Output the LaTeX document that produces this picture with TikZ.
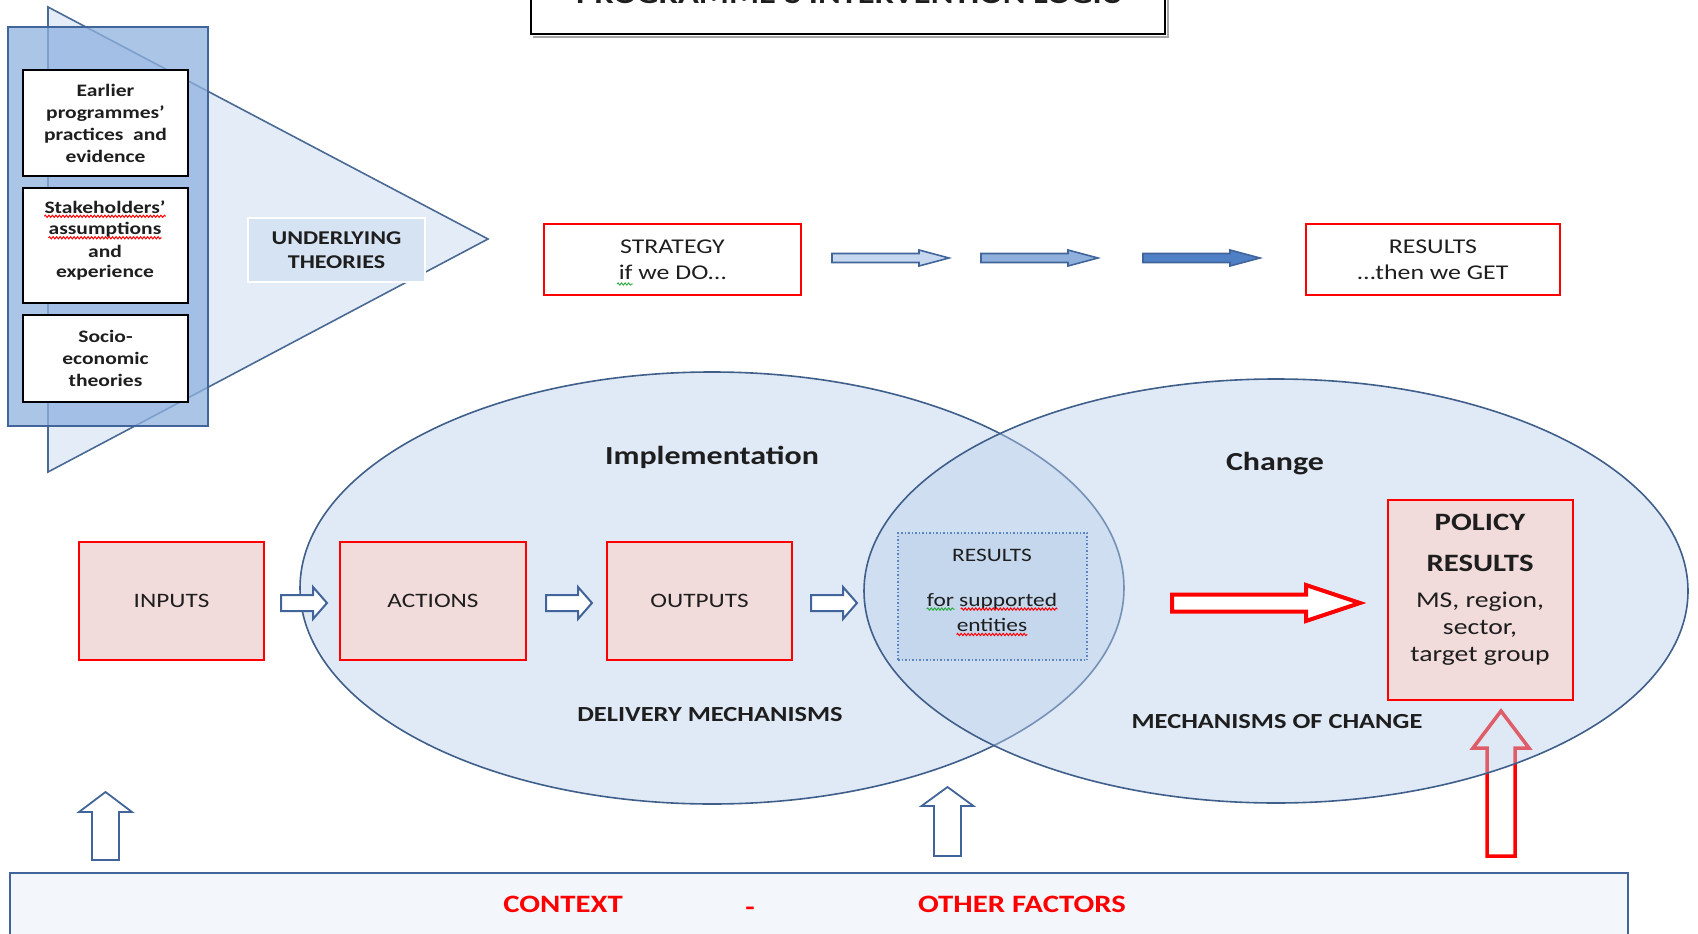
\documentclass[tikz,border=0pt]{standalone}
\usepackage{fontspec}
\setmainfont{Carlito}[FakeStretch=1.23]
\usetikzlibrary{decorations.pathmorphing}
\definecolor{tribl}{RGB}{228,236,247}
\definecolor{triline}{RGB}{74,106,148}
\definecolor{rectbl}{RGB}{143,177,223}
\definecolor{dkblue}{RGB}{65,101,154}
\definecolor{pinkf}{RGB}{242,220,219}
\definecolor{ellf}{RGB}{186,208,235}
\definecolor{elll}{RGB}{63,95,138}
\definecolor{undf}{RGB}{214,227,243}
\definecolor{resf}{RGB}{190,210,236}
\definecolor{dotl}{RGB}{91,133,192}
\definecolor{ctxf}{RGB}{243,246,251}
\definecolor{arr1}{RGB}{197,216,240}
\definecolor{arr2}{RGB}{143,176,220}
\definecolor{arr3}{RGB}{79,127,196}
\definecolor{txt}{RGB}{30,30,30}
\definecolor{spgreen}{RGB}{40,170,60}
\newcommand\rarrow[7]{\draw[#1] (#2,{#4-#5}) -- ({#3-#7},{#4-#5}) -- ({#3-#7},{#4-#6}) -- (#3,#4) -- ({#3-#7},{#4+#6}) -- ({#3-#7},{#4+#5}) -- (#2,{#4+#5}) -- cycle;}
\newcommand\uarrow[7]{\draw[#1] ({#2-#5},#4) -- ({#2-#5},{#3+#7}) -- ({#2-#6},{#3+#7}) -- (#2,#3) -- ({#2+#6},{#3+#7}) -- ({#2+#5},{#3+#7}) -- ({#2+#5},#4) -- cycle;}
\begin{document}
\begin{tikzpicture}[x=1pt,y=-1pt,
  lbl/.style={inner sep=0pt, text=txt},
  small/.style={lbl, font=\bfseries\fontsize{17.5}{22}\selectfont},
  whitebox/.style={draw=black, line width=2pt, fill=white, inner sep=0pt},
  redbox/.style={draw=red, line width=2pt, fill=pinkf, inner sep=0pt, text=txt},
  wavy/.style={decorate, decoration={snake, amplitude=1.1pt, segment length=3.5pt}, line width=1pt},
  hollow/.style={draw=dkblue, line width=2pt, fill=white, line join=miter},
  bluearrow/.style={draw=dkblue, line width=1.8pt},
  redarrow/.style={draw=red, line width=4pt, fill=white, line join=miter},
  ell/.style={draw=elll, line width=1.6pt, fill=ellf, fill opacity=0.45, draw opacity=1}
]
\useasboundingbox (0,0) rectangle (1698,934);
% ---------- title ----------
\draw[gray!70, line width=2pt] (533,37) -- (1168,37) -- (1168,-10);
\node[draw=black, line width=2pt, minimum width=634pt, minimum height=54pt, inner sep=0pt] (tbox) at (848,7) {};
\node[lbl, anchor=base, font=\bfseries\fontsize{28}{30}\selectfont] (title) at (848,4) {PROGRAMME’S INTERVENTION LOGIC};
% ---------- underlying theories ----------
\draw[fill=tribl, draw=triline, line width=1.6pt] (48,7) -- (488,239) -- (48,472) -- cycle;
\node[draw=dkblue, line width=2pt, fill=rectbl, fill opacity=0.75, draw opacity=1, minimum width=200pt, minimum height=399pt, inner sep=0pt] (srcs) at (108,226.5) {};
\node[whitebox, minimum width=165pt, minimum height=106pt] (b1) at (105.5,123) {};
\node[whitebox, minimum width=165pt, minimum height=115pt] (b2) at (105.5,245.5) {};
\node[whitebox, minimum width=165pt, minimum height=87pt] (b3) at (105.5,358.5) {};
\node[small, align=center] (t1) at (b1.center) {Earlier\\programmes’\\practices\ \ and\\evidence};
\node[small] (s1) at (105,207) {Stakeholders’};
\node[small] (s2) at (105,230) {assumptions};
\node[small] (s3) at (105,251) {and};
\node[small] (s4) at (105,273) {experience};
\draw[wavy, red] ([yshift=-3pt]s1.base west) -- ([yshift=-3pt]s1.base east);
\draw[wavy, red] ([yshift=-3pt]s2.base west) -- ([yshift=-3pt]s2.base east);
\node[small, align=center] (t3) at (b3.center) {Socio-\\economic\\theories};
\node[draw=white, line width=2pt, fill=undf, minimum width=177pt, minimum height=64pt, inner sep=0pt, align=center, text=txt, font=\bfseries\fontsize{19.5}{24}\selectfont] (und) at (336.5,250) {UNDERLYING\\THEORIES};
% ---------- strategy / results ----------
\node[draw=red, line width=2.2pt, minimum width=257pt, minimum height=71pt, inner sep=0pt] (strat) at (672.5,259.5) {};
\node[lbl, font=\fontsize{21}{26}\selectfont, align=center] (stt) at (strat.center) {STRATEGY\\if we DO…};
\draw[wavy, spgreen, line width=0.9pt] (617,284) -- (633,284);
\node[draw=red, line width=2.2pt, minimum width=254pt, minimum height=71pt, inner sep=0pt] (res) at (1433,259.5) {};
\node[lbl, font=\fontsize{21}{26}\selectfont, align=center] (rst) at (res.center) {RESULTS\\…then we GET};
\rarrow{draw=dkblue, line width=1.6pt, fill=arr1}{832}{949}{258}{4.5}{8}{30}
\rarrow{draw=dkblue, line width=1.6pt, fill=arr2}{981}{1098}{258}{4.5}{8}{30}
\rarrow{draw=dkblue, line width=1.6pt, fill=arr3}{1143}{1260}{258}{4.5}{8}{30}
% ---------- red up arrow (under the ellipse) ----------
\uarrow{redarrow, line width=3.5pt}{1501}{711}{856}{14}{28}{37}
% ---------- ellipses ----------
\path[ell] (712,588) ellipse [x radius=412, y radius=216];
\path[ell] (1276,591) ellipse [x radius=412, y radius=212];
\node[lbl, font=\bfseries\fontsize{26}{30}\selectfont] (impl) at (712,457) {Implementation};
\node[lbl, font=\bfseries\fontsize{26}{30}\selectfont] (chg) at (1275,464) {Change};
\node[lbl, font=\bfseries\fontsize{21.5}{26}\selectfont] (deliv) at (710,715) {DELIVERY MECHANISMS};
\node[lbl, font=\bfseries\fontsize{21.5}{26}\selectfont] (moc) at (1277,722) {MECHANISMS OF CHANGE};
% ---------- implementation chain ----------
\node[redbox, minimum width=185pt, minimum height=118pt, font=\fontsize{20.5}{24}\selectfont] (inputs) at (171.5,601) {INPUTS};
\node[redbox, minimum width=186pt, minimum height=118pt, font=\fontsize{20.5}{24}\selectfont] (actions) at (433,601) {ACTIONS};
\node[redbox, minimum width=185pt, minimum height=118pt, font=\fontsize{20.5}{24}\selectfont] (outputs) at (699.5,601) {OUTPUTS};
\rarrow{hollow}{281}{327}{603}{8}{16}{14}
\rarrow{hollow}{546}{592}{603}{8}{16}{14}
\rarrow{hollow}{811}{857}{603}{8}{16}{14}
% ---------- results for supported entities ----------
\node[draw=dotl, dotted, line width=1.5pt, fill=resf, fill opacity=0.6, draw opacity=1, minimum width=189pt, minimum height=127pt, inner sep=0pt] (rse) at (992.5,596.5) {};
\node[lbl, font=\fontsize{19}{22}\selectfont] (rse1) at (992,555) {RESULTS};
\node[lbl, font=\fontsize{19}{22}\selectfont] (rse2) at (992,601) {for supported};
\node[lbl, font=\fontsize{19}{22}\selectfont] (rse3) at (992,625) {entities};
\draw[wavy, spgreen] ([yshift=-3pt]rse2.base west) -- ++(28,0);
\draw[wavy, red] ([xshift=34pt,yshift=-3pt]rse2.base west) -- ([yshift=-3pt]rse2.base east);
\draw[wavy, red] ([yshift=-3pt]rse3.base west) -- ([yshift=-3pt]rse3.base east);
% ---------- change ----------
\rarrow{redarrow}{1172}{1360}{603}{8.5}{18}{54}
\node[redbox, minimum width=185pt, minimum height=200pt] (policy) at (1480.5,600) {};
\node[lbl, font=\bfseries\fontsize{25}{30}\selectfont] (p1) at (1480,522) {POLICY};
\node[lbl, font=\bfseries\fontsize{25}{30}\selectfont] (p2) at (1480,563) {RESULTS};
\node[lbl, font=\fontsize{22.5}{27}\selectfont, align=center] (p3) at (1480,629) {MS, region,\\sector,\\target group};
% ---------- context ----------
\uarrow{bluearrow, fill=white}{105.5}{792}{860}{13.5}{26.5}{20}
\uarrow{bluearrow, fill=white}{947.5}{787}{856}{13.5}{26}{19}
\node[draw=dkblue, line width=2pt, fill=ctxf, minimum width=1618pt, minimum height=90pt, inner sep=0pt, anchor=north west] (ctx) at (9,872) {};
\node[lbl, text=red, font=\bfseries\fontsize{25}{30}\selectfont] (c1) at (563,904) {CONTEXT};
\node[lbl, text=red, font=\bfseries\fontsize{25}{30}\selectfont] (c2) at (750,911) {-};
\node[lbl, text=red, font=\bfseries\fontsize{25}{30}\selectfont] (c3) at (1022,904) {OTHER FACTORS};
\end{tikzpicture}
\end{document}
